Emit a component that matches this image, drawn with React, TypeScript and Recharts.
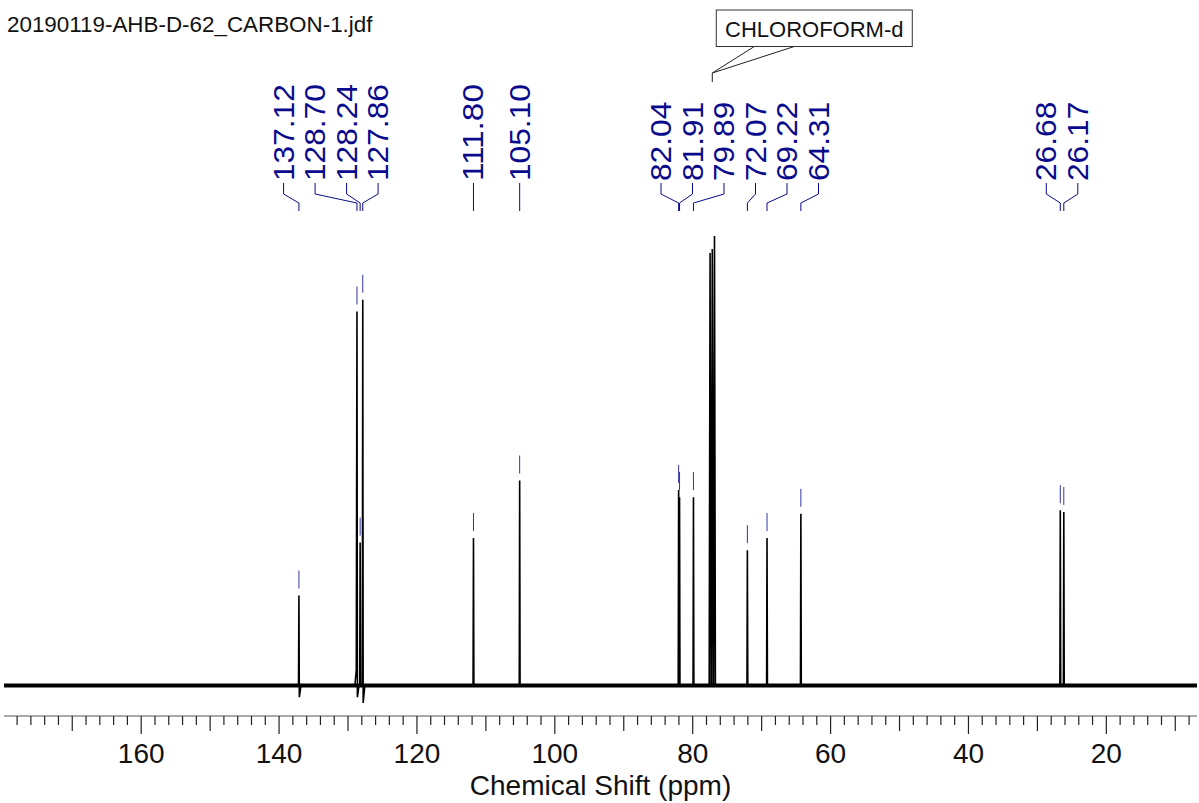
import { ComposedChart, Line, Scatter, XAxis, YAxis, ReferenceLine } from "recharts";

// 13C spectrum, CDCl3
const TITLE = "20190119-AHB-D-62_CARBON-1.jdf";
const X_LABEL = "Chemical Shift (ppm)";
const SOLVENT_NAME = "CHLOROFORM-d";

const PEAK_PPM = [137.12, 128.7, 128.24, 127.86, 111.8, 105.1, 82.04, 81.91, 79.89, 72.07, 69.22, 64.31, 26.68, 26.17];
const PEAK_HEIGHT = [20.0, 83.2, 31.8, 85.8, 32.8, 45.6, 43.5, 41.9, 41.9, 30.1, 32.8, 38.2, 39.0, 38.6];
// small phase wiggles next to some lines (dip after / rise before)
const PEAK_DIP = [-2.6, -2.6, 0, -3.9, 0, 0, 0, 0, 0, 0, 0, 0, 0, 0];
const PEAK_LEAD = [0, 3.5, 0, 0, 0, 0, 0, 0, 0, 0, 0, 0, 0, 0];

const SOLVENT_PPM = [77.48, 77.16, 76.84];
const SOLVENT_HEIGHT = [96.2, 97.1, 100];

const TICK_LABELS = [160, 140, 120, 100, 80, 60, 40, 20];

const W = 1199;
const H = 803;
const MARGIN = { top: 236, right: 2, left: 4, bottom: 7 };
const X_AXIS_H = 80;
const X_MIN = 6.85;
const X_MAX = 179.9;
const Y_MIN = -6.79;
const Y_MAX = 100;
const PX_PER_PPM = (W - MARGIN.left - MARGIN.right) / (X_MAX - X_MIN);

const FONT = "'Liberation Sans', Arial, sans-serif";
const BLUE = "#0a0a8c";

// minor ticks every 2 ppm
const ticks: number[] = [];
for (let v = 8; v <= 178; v += 2) ticks.push(v);

type Signal = { ppm: number; h: number; dip: number; lead: number; hw: number };
const signals: Signal[] = [
  ...PEAK_PPM.map((p, i) => ({ ppm: p, h: PEAK_HEIGHT[i], dip: PEAK_DIP[i], lead: PEAK_LEAD[i], hw: 0.06 })),
  ...SOLVENT_PPM.map((p, i) => ({ ppm: p, h: SOLVENT_HEIGHT[i], dip: 0, lead: 0, hw: 0.13 })),
].sort((a, b) => b.ppm - a.ppm);

const spectrum: { ppm: number; v: number }[] = [{ ppm: X_MAX, v: 0 }];
signals.forEach((s) => {
  if (s.lead) spectrum.push({ ppm: s.ppm + 0.3, v: 0 }, { ppm: s.ppm + 0.1, v: s.lead });
  else spectrum.push({ ppm: s.ppm + s.hw, v: 0 });
  spectrum.push({ ppm: s.ppm, v: s.h });
  if (s.dip) spectrum.push({ ppm: s.ppm - s.hw, v: s.dip }, { ppm: s.ppm - 0.3, v: 0 });
  else spectrum.push({ ppm: s.ppm - s.hw, v: 0 });
});
spectrum.push({ ppm: X_MIN, v: 0 });

// spread labels that would overlap: clusters centred on the middle of their extreme peaks
const LABEL_GAP = 31.5 / PX_PER_PPM;
function layoutLabels(ppms: number[]): number[] {
  const place = (c: { a: number; b: number }) => {
    const mid = (ppms[c.a] + ppms[c.b]) / 2;
    const n = c.b - c.a + 1;
    return Array.from({ length: n }, (_, k) => mid + ((n - 1) / 2 - k) * LABEL_GAP);
  };
  const clusters = ppms.map((_, i) => ({ a: i, b: i }));
  let merged = true;
  while (merged) {
    merged = false;
    for (let i = 0; i < clusters.length - 1; i++) {
      const l = place(clusters[i]);
      const r = place(clusters[i + 1]);
      if (l[l.length - 1] - r[0] < LABEL_GAP - 1e-6) {
        clusters.splice(i, 2, { a: clusters[i].a, b: clusters[i + 1].b });
        merged = true;
        break;
      }
    }
  }
  return clusters.flatMap(place);
}
const labelPpm = layoutLabels(PEAK_PPM);

const peakMarks = PEAK_PPM.map((p, i) => ({
  ppm: p,
  h: PEAK_HEIGHT[i],
  label: p.toFixed(2),
  labelPpm: labelPpm[i],
}));

const solventMark = [
  {
    ppm: SOLVENT_PPM.reduce((s, v) => s + v, 0) / SOLVENT_PPM.length,
    h: Math.max(...SOLVENT_HEIGHT),
  },
];

const textEm = (s: string) => s.split("").reduce((w, c) => w + (c === "." ? 0.278 : 0.556), 0);

const PeakMark = (props: any) => {
  const { cx, cy, payload } = props;
  if (cx == null || cy == null) return null;
  const lx = cx + (payload.ppm - payload.labelPpm) * PX_PER_PPM;
  const ty = 181;
  return (
    <g>
      <line x1={cx} x2={cx} y1={cy - 25} y2={cy - 7} stroke="#3434a8" strokeWidth={1} />
      <path d={`M${lx},183 V194 L${cx},203 V211`} fill="none" stroke={BLUE} strokeWidth={1} />
      <text
        x={lx}
        y={ty}
        transform={`rotate(-90 ${lx} ${ty})`}
        fontSize={29}
        fontFamily={FONT}
        fill={BLUE}
        dominantBaseline="central"
        textLength={textEm(payload.label) * 31.7}
        lengthAdjust="spacingAndGlyphs"
      >
        {payload.label}
      </text>
    </g>
  );
};

const SolventCallout = (props: any) => {
  const { cx } = props;
  if (cx == null) return null;
  const boxX = cx + 4;
  const boxW = 196;
  return (
    <g>
      <path
        d={`M${cx + 42},46.5 L${cx},73 L${cx + 82},46.5 M${cx},73 V82`}
        fill="none"
        stroke="#222"
        strokeWidth={1}
      />
      <rect x={boxX} y={10} width={boxW} height={36.5} fill="#fff" stroke="#333" strokeWidth={1} />
      <text x={boxX + boxW / 2} y={37} textAnchor="middle" fontSize={22} fontFamily={FONT} fill="#111">
        {SOLVENT_NAME}
      </text>
    </g>
  );
};

const AxisTick = (props: any) => {
  const { x, y, payload } = props;
  const v = payload.value as number;
  const labelled = TICK_LABELS.includes(v);
  const len = labelled ? 18 : v % 10 === 0 ? 15 : 9;
  return (
    <g>
      <line x1={x} x2={x} y1={y} y2={y + len} stroke="#222" strokeWidth={1.2} />
      {labelled && (
        <text x={x} y={y + 47} textAnchor="middle" fontSize={28} fontFamily={FONT} fill="#111">
          {v}
        </text>
      )}
    </g>
  );
};

export default function App() {
  document.body.style.margin = "0";
  return (
    <div style={{ position: "relative", width: W, height: H, background: "#fff", fontFamily: FONT }}>
      <svg width={W} height={H} style={{ position: "absolute", left: 0, top: 0, pointerEvents: "none" }}>
        <text x={7} y={32} fontSize={22.4} fontFamily={FONT} fill="#111">
          {TITLE}
        </text>
      </svg>
      <div style={{ position: "absolute", left: 0, top: 0 }}>
        <ComposedChart width={W} height={H} margin={MARGIN}>
          <XAxis
            dataKey="ppm"
            type="number"
            domain={[X_MIN, X_MAX]}
            reversed
            ticks={ticks}
            interval={0}
            tick={(p: any) => <AxisTick {...p} />}
            tickLine={false}
            tickSize={0}
            tickMargin={0}
            height={X_AXIS_H}
            axisLine={{ stroke: "#555", strokeWidth: 1.2 }}
            label={{ value: X_LABEL, position: "insideBottom", offset: 1, fontSize: 28, fill: "#111", fontFamily: FONT }}
          />
          <YAxis type="number" domain={[Y_MIN, Y_MAX]} hide />
          <ReferenceLine y={0} stroke="#000" strokeWidth={4} />
          <Line
            data={spectrum}
            dataKey="v"
            type="linear"
            stroke="#000"
            strokeWidth={1.6}
            dot={false}
            activeDot={false}
            isAnimationActive={false}
          />
          <Scatter data={peakMarks} dataKey="h" shape={PeakMark} isAnimationActive={false} />
          <Scatter data={solventMark} dataKey="h" shape={SolventCallout} isAnimationActive={false} />
        </ComposedChart>
      </div>
    </div>
  );
}
